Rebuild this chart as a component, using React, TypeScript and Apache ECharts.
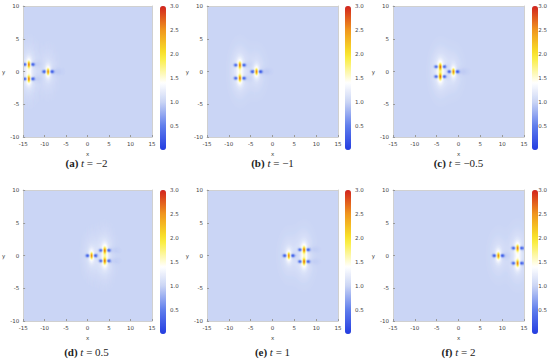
import React, { useEffect, useRef } from 'react';
import * as echarts from 'echarts';

// ---- data ----
const panelLabels = ['(a)', '(b)', '(c)', '(d)', '(e)', '(f)'];
const panelTimes = ['−2', '−1', '−0.5', '0.5', '1', '2'];
// centre of the single lump (x, y) per panel
const singleX = [-9.1, -3.6, -1.1, 1.0, 3.8, 9.2];
const singleY = [0, 0, 0, 0, 0, 0];
// centre x of the lump pair and its half separation in y
const pairX = [-13.6, -7.4, -4.1, 4.1, 7.3, 13.6];
const pairY = [1.1, 1.0, 0.75, 0.8, 0.9, 1.15];
const peakHeight = 1.35;
const dipDepth = 0.97;
const haloHeight = 0.42;
const xRange = [-15, 15];
const yRange = [-10, 10];
const colorRange = [0, 3];

// ---- style / layout ----
const N = 131;
const colLeft = [21, 207, 393];
const rowTop = [6, 190];
const plotSize = 131;
const cbLeft = [160, 345, 532];
const cbW = 6;
const cbH = 144;
const stops: [number, number[]][] = [
  [0.0, [35, 60, 225]],
  [0.5, [95, 125, 236]],
  [1.0, [202, 213, 245]],
  [1.4, [255, 255, 255]],
  [1.9, [250, 238, 70]],
  [2.05, [248, 222, 40]],
  [2.5, [240, 150, 30]],
  [3.0, [210, 35, 30]],
];
function colorAt(v: number) {
  if (v <= stops[0][0]) return stops[0][1];
  for (let i = 1; i < stops.length; i++) {
    if (v <= stops[i][0]) {
      const [a, ca] = stops[i - 1];
      const [b, cb] = stops[i];
      const t = (v - a) / (b - a);
      return ca.map((c, k) => Math.round(c + (cb[k] - c) * t));
    }
  }
  return stops[stops.length - 1][1];
}
const rgb = (c: number[]) => `rgb(${c[0]},${c[1]},${c[2]})`;
const paletteN = 61;
const palette = Array.from({ length: paletteN }, (_, i) =>
  rgb(colorAt(colorRange[0] + ((colorRange[1] - colorRange[0]) * i) / (paletteN - 1)))
);

const g = (u: number, s: number) => Math.exp(-(u / s) * (u / s));
function lumpValue(X: number, Y: number) {
  const peak = peakHeight * g(X, 0.25) * g(Y, 0.4);
  const dips = -dipDepth * (g(X - 0.9, 0.45) + g(X + 0.9, 0.45)) * g(Y, 0.24);
  const halo = haloHeight * g(X, 0.6) * g(Y, 1.0);
  const wide = 0.12 * g(X, 1.8) * g(Y, 2.8) - 0.08 * g(X - 1.8, 1.4) * g(Y, 0.6);
  return peak + dips + halo + wide;
}

function buildData(k: number) {
  const lumps = [
    [singleX[k], singleY[k]],
    [pairX[k], pairY[k]],
    [pairX[k], -pairY[k]],
  ];
  const dx = (xRange[1] - xRange[0]) / N;
  const dy = (yRange[1] - yRange[0]) / N;
  const out: number[][] = [];
  for (let i = 0; i < N; i++) {
    for (let j = 0; j < N; j++) {
      let s = 0;
      for (let a = 0; a < 3; a++)
        for (let b = 0; b < 3; b++) {
          const x = xRange[0] + (i + (a + 0.5) / 3) * dx;
          const y = yRange[0] + (j + (b + 0.5) / 3) * dy;
          let v = 1;
          for (const [cx, cy] of lumps) v += lumpValue(x - cx, y - cy);
          s += Math.max(0.02, v);
        }
      const v = s / 9;
      if (Math.abs(v - 1) > 0.008) out.push([i, j, +v.toFixed(3)]);
    }
  }
  return out;
}

export default function App() {
  const ref = useRef<HTMLDivElement>(null);
  useEffect(() => {
    document.body.style.margin = '0';
    const chart = echarts.init(ref.current!, null, { renderer: 'svg' });
    const idx = Array.from({ length: N }, (_, i) => String(i));
    const grid: any[] = [];
    const xAxis: any[] = [];
    const yAxis: any[] = [];
    const series: any[] = [];
    const visualMap: any[] = [];
    const graphic: any[] = [];
    const bg = rgb(colorAt(1));
    const tickFont = { fontSize: 5.5, color: '#444', fontFamily: 'DejaVu Sans' };
    for (let k = 0; k < 6; k++) {
      const col = k % 3;
      const row = Math.floor(k / 3);
      grid.push({ left: colLeft[col], top: rowTop[row], width: plotSize, height: plotSize, show: true, backgroundColor: bg, borderWidth: 0 });
    }
    for (let k = 0; k < 6; k++) {
      const col = k % 3;
      const row = Math.floor(k / 3);
      grid.push({ left: cbLeft[col], top: rowTop[row], width: cbW, height: cbH });
    }
    for (let k = 0; k < 6; k++) {
      xAxis.push({ type: 'category', gridIndex: k, data: idx, position: 'top', z: 10, axisLabel: { show: false }, axisTick: { show: false }, axisLine: { onZero: false, lineStyle: { color: '#d0d0d0', width: 1 } }, splitLine: { show: false } });
      xAxis.push({ type: 'value', gridIndex: k, min: xRange[0], max: xRange[1], interval: 5, position: 'bottom', z: 10,
        axisLine: { onZero: false, lineStyle: { color: '#d0d0d0' } }, axisTick: { inside: true, length: 2, lineStyle: { color: '#999' } },
        axisLabel: { ...tickFont, margin: 4 }, splitLine: { show: false },
        name: 'x', nameLocation: 'middle', nameGap: 14, nameTextStyle: { ...tickFont } });
      yAxis.push({ type: 'category', gridIndex: k, data: idx, position: 'right', z: 10, axisLabel: { show: false }, axisTick: { show: false }, axisLine: { onZero: false, lineStyle: { color: '#d0d0d0', width: 1 } }, splitLine: { show: false } });
      yAxis.push({ type: 'value', gridIndex: k, min: yRange[0], max: yRange[1], interval: 5, position: 'left', z: 10,
        axisLine: { show: true, onZero: false, lineStyle: { color: '#d0d0d0' } }, axisTick: { show: true, inside: true, length: 2, lineStyle: { color: '#999' } },
        axisLabel: { ...tickFont, margin: 4 }, splitLine: { show: false },
        name: 'y', nameLocation: 'middle', nameRotate: 0, nameGap: 15, nameTextStyle: { ...tickFont } });
    }
    for (let k = 0; k < 6; k++) {
      xAxis.push({ type: 'value', gridIndex: 6 + k, show: false });
      yAxis.push({ type: 'value', gridIndex: 6 + k, min: colorRange[0], max: colorRange[1], interval: 0.5, position: 'right',
        axisLine: { show: false }, axisTick: { show: false }, splitLine: { show: false },
        axisLabel: { ...tickFont, margin: 4, formatter: (v: number) => (v === 0 ? '' : v.toFixed(1)) } });
    }
    for (let k = 0; k < 6; k++) {
      const col = k % 3;
      const row = Math.floor(k / 3);
      series.push({ type: 'heatmap', xAxisIndex: 2 * k, yAxisIndex: 2 * k, data: buildData(k), silent: true, progressive: 0, emphasis: { disabled: true } });
      visualMap.push({ type: 'continuous', seriesIndex: k, min: colorRange[0], max: colorRange[1], inRange: { color: palette },
        left: cbLeft[col], top: rowTop[row], itemWidth: cbW, itemHeight: cbH, padding: 0, text: ['', ''], calculable: false, hoverLink: false, orient: 'vertical' });
      graphic.push({ type: 'text', x: colLeft[col] + plotSize / 2, y: row === 0 ? 163 : 352,
        style: { text: `{b|${panelLabels[k]}} {i|t} = ${panelTimes[k]}`, align: 'center', verticalAlign: 'middle',
          fontFamily: 'Liberation Serif', fontSize: 11, fill: '#222',
          rich: { b: { fontWeight: 'bold', fontFamily: 'Liberation Serif', fontSize: 11, fill: '#222' }, i: { fontStyle: 'italic', fontFamily: 'Liberation Serif', fontSize: 11, fill: '#222' } } } });
    }
    chart.setOption({ animation: false, backgroundColor: '#fff', grid, xAxis, yAxis, series, visualMap, graphic });
    return () => chart.dispose();
  }, []);
  return <div ref={ref} style={{ width: 550, height: 363, position: 'absolute', left: 0, top: 0 }} />;
}
